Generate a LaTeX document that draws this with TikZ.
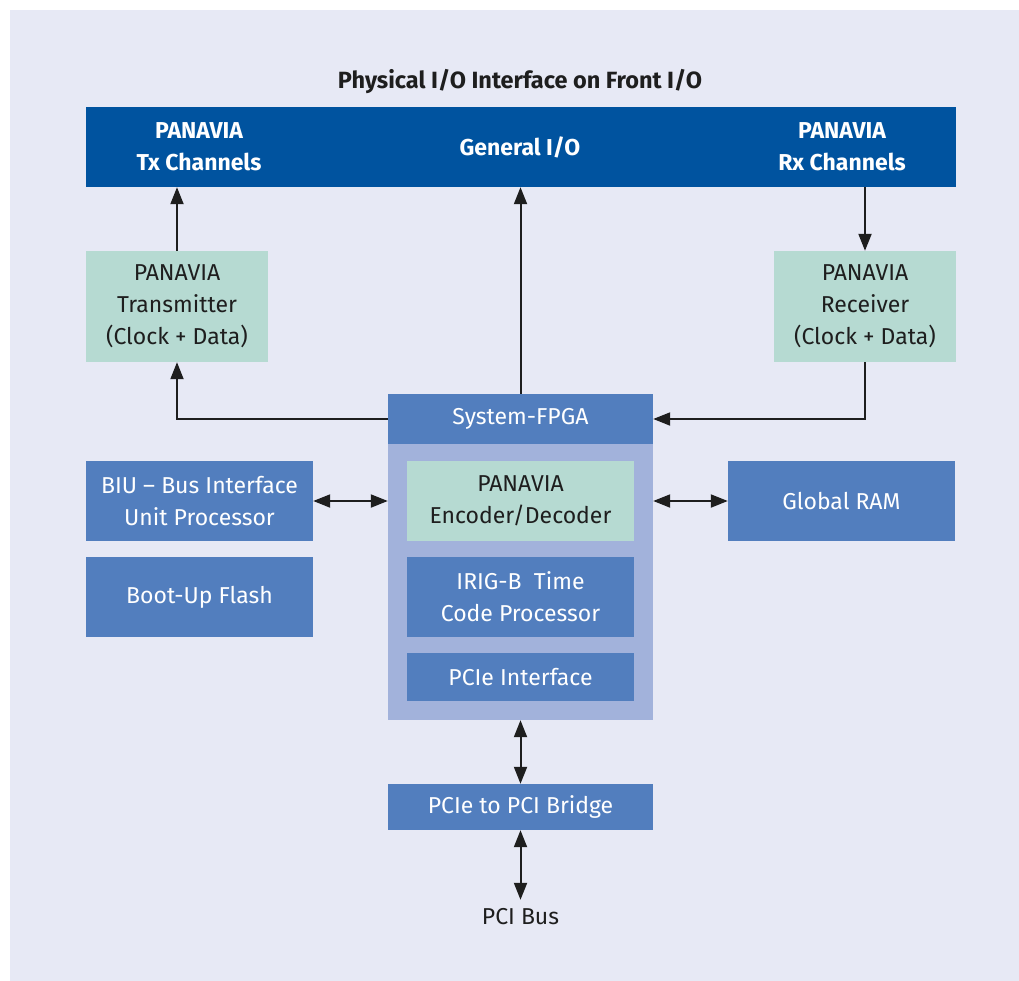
\documentclass[tikz,border=0pt]{standalone}
\usepackage{fontspec}
\setmainfont{Fira Sans}
\usetikzlibrary{arrows.meta}

\definecolor{pageBg}{HTML}{E7E9F5}
\definecolor{darkBlue}{HTML}{00539F}
\definecolor{midBlue}{HTML}{527EBE}
\definecolor{lightBlue}{HTML}{A2B2DB}
\definecolor{mint}{HTML}{B6DAD2}
\definecolor{inkText}{HTML}{1E1E1E}

\tikzstyle{BlockBox} = [fill=midBlue, text=white, align=center, inner sep=0pt, font=\fontsize{23}{32}\selectfont]
\tikzstyle{MintBox} = [BlockBox, fill=mint, text=inkText]
\tikzstyle{HeadText} = [text=white, align=center, inner sep=0pt, font=\fontsize{23}{32}\selectfont\bfseries]

\begin{document}
\begin{tikzpicture}[x=1pt, y=-1pt,
    link/.style={line width=2pt, draw=inkText, -{Triangle[length=17pt, width=13pt]}},
    twolink/.style={line width=2pt, draw=inkText, {Triangle[length=17pt, width=13pt]}-{Triangle[length=17pt, width=13pt]}}]

    \useasboundingbox (0,0) rectangle (1019,980);
    \fill[white] (-10,-10) rectangle (1040,1000);
    \fill[pageBg] (10,10) rectangle (1040,1000);

    % front panel
    \node[text=inkText, font=\fontsize{23.5}{24}\selectfont\bfseries] (title) at (520,82) {Physical I/O Interface on Front I/O};
    \node[fill=darkBlue, minimum width=870pt, minimum height=80pt, inner sep=0pt] (frontIO) at (521,147) {};
    \node[HeadText] (txChan) at (199,147) {PANAVIA\\Tx Channels};
    \node[HeadText] (genIO) at (520,147) {General I/O};
    \node[HeadText] (rxChan) at (842,147) {PANAVIA\\Rx Channels};

    \node[MintBox, minimum width=182pt, minimum height=111pt] (transmitter) at (177,306.5) {PANAVIA\\Transmitter\\(Clock + Data)};
    \node[MintBox, minimum width=182pt, minimum height=111pt] (receiver) at (865,306.5) {PANAVIA\\Receiver\\(Clock + Data)};

    % FPGA
    \node[fill=lightBlue, minimum width=265pt, minimum height=276pt, inner sep=0pt] (fpgaBody) at (520.5,582) {};
    \node[BlockBox, minimum width=265pt, minimum height=50pt] (fpgaHead) at (520.5,419) {System-FPGA};
    \node[MintBox, minimum width=227pt, minimum height=80pt] (encoder) at (520.5,501) {PANAVIA\\Encoder/Decoder};
    \node[BlockBox, minimum width=227pt, minimum height=80pt] (irig) at (520.5,597) {IRIG-B\ \ Time\\Code Processor};
    \node[BlockBox, minimum width=227pt, minimum height=48pt] (pcieIf) at (520.5,677) {PCIe Interface};

    \node[BlockBox, minimum width=227pt, minimum height=80pt] (biu) at (199.5,501) {BIU -- Bus Interface\\Unit Processor};
    \node[BlockBox, minimum width=227pt, minimum height=80pt] (boot) at (199.5,597) {Boot-Up Flash};
    \node[BlockBox, minimum width=227pt, minimum height=80pt] (ram) at (841.5,501) {Global RAM};

    \node[BlockBox, minimum width=265pt, minimum height=46pt] (bridge) at (520.5,807) {PCIe to PCI Bridge};
    \node[text=inkText, font=\fontsize{23}{24}\selectfont, inner sep=0pt, outer sep=9pt] (pciBus) at (520.5,917) {PCI Bus};

    % connections
    \draw[link] (transmitter.north) -- (transmitter.north |- frontIO.south);
    \draw[link] (frontIO.south -| receiver.north) -- (receiver.north);
    \draw[link] (fpgaHead.north) -- (fpgaHead.north |- frontIO.south);
    \draw[link] (fpgaHead.west) -| (transmitter.south);
    \draw[link] (receiver.south) |- (fpgaHead.east);
    \draw[twolink] (biu.east) -- (biu.east -| fpgaBody.west);
    \draw[twolink] (ram.west -| fpgaBody.east) -- (ram.west);
    \draw[twolink] (fpgaBody.south) -- (bridge.north);
    \draw[twolink] (bridge.south) -- (pciBus.north);
\end{tikzpicture}
\end{document}
